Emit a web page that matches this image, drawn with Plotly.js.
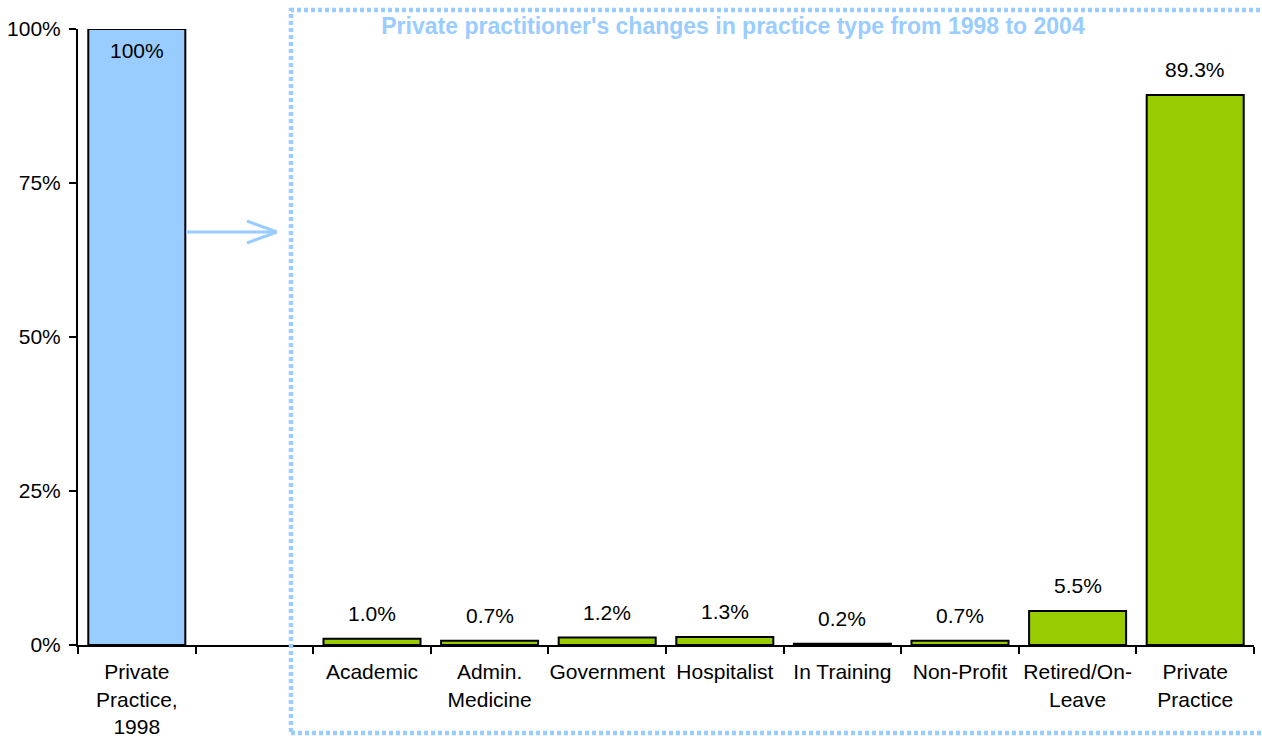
<!DOCTYPE html>
<html><head><meta charset="utf-8">
<script src="https://cdn.plot.ly/plotly-3.0.1.min.js"></script>
<style>html,body{margin:0;padding:0;background:#fff}#chart{width:1262px;height:738px}</style>
</head><body><div id="chart"></div>
<script>
const categories = ["Private<br>Practice,<br>1998", " ", "Academic", "Admin.<br>Medicine", "Government", "Hospitalist", "In Training", "Non-Profit", "Retired/On-<br>Leave", "Private<br>Practice"];
const shares = [1.0, null, 0.010, 0.007, 0.012, 0.013, 0.002, 0.007, 0.055, 0.893];
const shareLabels = ["100%", "", "1.0%", "0.7%", "1.2%", "1.3%", "0.2%", "0.7%", "5.5%", "89.3%"];
const periods = ["1998", "", "2004", "2004", "2004", "2004", "2004", "2004", "2004", "2004"];
const yTicks = [0, 0.25, 0.5, 0.75, 1];
const yTickLabels = ["0%", "25%", "50%", "75%", "100%"];
const titleText = "Private practitioner's changes in practice type from 1998 to 2004";

const BLUE = "#99CCFF", GREEN = "#99CC00";
const FONT = "Liberation Sans, Arial, sans-serif";
const FS = 21;
const colors = periods.map(p => p === "1998" ? BLUE : GREEN);

// plot area pixel helpers for decorative shapes
const L = 78, R = 1254, T = 29, B = 645;
const px = x => (x - L) / (R - L);
const py = y => (B - y) / (B - T);

const trace = {
  type: "bar",
  x: categories,
  y: shares,
  marker: {color: colors, line: {color: "#000", width: 2}},
  hoverinfo: "skip"
};

const annotations = [];
shares.forEach((v, i) => {
  if (v === null) return;
  const inside = periods[i] === "1998";
  annotations.push({
    x: categories[i], y: v, xref: "x", yref: "y",
    text: shareLabels[i], showarrow: false,
    yanchor: inside ? "top" : "bottom",
    yshift: inside ? -8 : 12,
    font: {family: FONT, size: FS, color: "#000"}
  });
});

const shapes = [
  {type: "rect", xref: "paper", yref: "paper",
   x0: px(291), x1: px(1275), y0: py(733), y1: py(10),
   line: {color: BLUE, width: 4.5, dash: "4px,3px"}},
  {type: "line", xref: "paper", yref: "paper",
   x0: px(186), x1: px(276), y0: py(232), y1: py(232),
   line: {color: BLUE, width: 3}},
  {type: "line", xref: "paper", yref: "paper",
   x0: px(247), x1: px(277), y0: py(221), y1: py(232),
   line: {color: BLUE, width: 3}},
  {type: "line", xref: "paper", yref: "paper",
   x0: px(247), x1: px(277), y0: py(243), y1: py(232),
   line: {color: BLUE, width: 3}}
];

const layout = {
  width: 1262, height: 738,
  margin: {l: L, r: 1262 - R, t: T, b: 738 - B, pad: 0},
  paper_bgcolor: "#fff", plot_bgcolor: "#fff",
  font: {family: FONT, size: FS, color: "#000"},
  showlegend: false,
  bargap: 0.175,
  title: {
    text: titleText, xref: "container", yref: "container",
    x: 733 / 1262, y: 1 - 26 / 738, xanchor: "center", yanchor: "middle",
    font: {family: FONT, size: 23, color: BLUE, weight: "bold"}
  },
  xaxis: {
    type: "category", categoryorder: "array", categoryarray: categories,
    tickson: "boundaries", ticks: "outside", ticklen: 7, tickwidth: 2, tickcolor: "#000",
    tickangle: 0, ticklabelstandoff: 7,
    showline: true, linecolor: "#000", linewidth: 2,
    showgrid: false, zeroline: false,
    tickfont: {family: FONT, size: FS, color: "#000"},
    fixedrange: true
  },
  yaxis: {
    range: [0, 1], tickvals: yTicks, ticktext: yTickLabels,
    ticks: "outside", ticklen: 7, tickwidth: 2, tickcolor: "#000",
    showline: true, linecolor: "#000", linewidth: 2,
    showgrid: false, zeroline: false, ticklabelstandoff: 4,
    tickfont: {family: FONT, size: FS, color: "#000"},
    fixedrange: true
  },
  annotations: annotations,
  shapes: shapes
};

Plotly.newPlot("chart", [trace], layout, {displayModeBar: false, staticPlot: true});
</script>
</body></html>
